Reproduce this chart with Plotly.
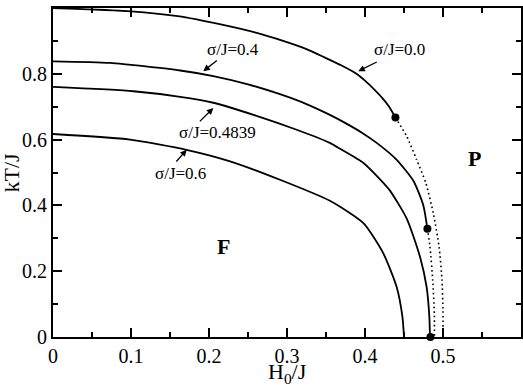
import plotly.graph_objects as go

# phase boundaries kT/J vs H0/J
h_s00 = [0.0, 0.1, 0.16, 0.215, 0.26, 0.295, 0.325, 0.348, 0.37, 0.389, 0.401, 0.412, 0.422, 0.431, 0.439]
t_s00 = [1.0, 0.99, 0.975, 0.95, 0.925, 0.9, 0.875, 0.85, 0.825, 0.8, 0.777, 0.752, 0.727, 0.7, 0.667]
h_s00_dot = [0.439, 0.4535, 0.466, 0.478, 0.4876, 0.495, 0.4987, 0.5, 0.5]
t_s00_dot = [0.667, 0.61, 0.54, 0.468, 0.376, 0.274, 0.173, 0.08, 0.0]

h_s04 = [0.0, 0.073, 0.163, 0.2055, 0.25, 0.291, 0.325, 0.355, 0.375, 0.396, 0.415, 0.44, 0.462, 0.4748, 0.48]
t_s04 = [0.838, 0.833, 0.81, 0.793, 0.768, 0.738, 0.708, 0.675, 0.65, 0.621, 0.59, 0.54, 0.475, 0.4, 0.329]
h_s04_dot = [0.48, 0.4833, 0.4868, 0.4889, 0.489]
t_s04_dot = [0.329, 0.274, 0.173, 0.071, 0.0]

h_s48 = [0.0, 0.103, 0.163, 0.2055, 0.26, 0.3124, 0.355, 0.368, 0.398, 0.419, 0.432, 0.4535, 0.4705, 0.479, 0.4825, 0.4833]
t_s48 = [0.76, 0.747, 0.73, 0.712, 0.673, 0.63, 0.59, 0.572, 0.529, 0.48, 0.445, 0.36, 0.244, 0.152, 0.061, 0.0]

h_s06 = [0.0, 0.0987, 0.171, 0.227, 0.291, 0.355, 0.398, 0.4235, 0.4406, 0.448, 0.45]
t_s06 = [0.617, 0.6, 0.569, 0.534, 0.478, 0.414, 0.346, 0.254, 0.152, 0.061, 0.0]

# tricritical / end points
h_pts = [0.439, 0.48, 0.4839]
t_pts = [0.667, 0.329, 0.0]

FONT = 'Liberation Serif'

fig = go.Figure()

for hx, ty in [(h_s00, t_s00), (h_s04, t_s04), (h_s48, t_s48), (h_s06, t_s06)]:
	fig.add_trace(go.Scatter(
		x = hx, y = ty, mode = 'lines',
		line = dict(color = 'black', width = 1.8, shape = 'spline', smoothing = 0.6),
		showlegend = False, hoverinfo = 'skip'
	))

for hx, ty in [(h_s00_dot, t_s00_dot), (h_s04_dot, t_s04_dot)]:
	fig.add_trace(go.Scatter(
		x = hx, y = ty, mode = 'lines',
		line = dict(color = 'black', width = 1.6, dash = '1.6px,3px', shape = 'spline', smoothing = 0.6),
		showlegend = False, hoverinfo = 'skip'
	))

fig.add_trace(go.Scatter(
	x = h_pts, y = t_pts, mode = 'markers',
	marker = dict(color = 'black', size = 8),
	showlegend = False, cliponaxis = False
))

# labels: (text, text x, text y, arrow tail x, tail y, head x, head y)
labels = [
	('σ/J=0.0', 0.4436, 0.874, 0.417, 0.838, 0.3914, 0.808),
	('σ/J=0.4', 0.2308, 0.874, 0.212, 0.844, 0.1927, 0.808),
	('σ/J=0.4839', 0.2109, 0.6226, 0.1863, 0.651, 0.2055, 0.696),
	('σ/J=0.6', 0.164, 0.498, 0.1564, 0.529, 0.1714, 0.569),
]
for txt, tx, ty, ax, ay, hx, hy in labels:
	fig.add_annotation(x = tx, y = ty, text = txt, showarrow = False,
		font = dict(family = FONT, size = 17, color = 'black'))
	fig.add_annotation(x = hx, y = hy, ax = ax, ay = ay, axref = 'x', ayref = 'y',
		text = '', showarrow = True, arrowhead = 2, arrowsize = 1, arrowwidth = 1.3,
		arrowcolor = 'black')

fig.add_annotation(x = 0.541, y = 0.542, text = '<b>P</b>', showarrow = False,
	font = dict(family = FONT, size = 22, color = 'black'))
fig.add_annotation(x = 0.218, y = 0.275, text = '<b>F</b>', showarrow = False,
	font = dict(family = FONT, size = 22, color = 'black'))

# axis titles
fig.add_annotation(xref = 'paper', yref = 'paper', x = 0.5, y = 0, yshift = -20,
	yanchor = 'top', text = 'H<sub>0</sub>/J', showarrow = False,
	font = dict(family = FONT, size = 22, color = 'black'))
fig.add_annotation(xref = 'paper', yref = 'paper', x = 0, y = 0.5, xshift = -42,
	xanchor = 'center', textangle = -90, text = 'kT/J', showarrow = False,
	font = dict(family = FONT, size = 22, color = 'black'))

axis_common = dict(
	showgrid = False, zeroline = False, automargin = False,
	showline = True, linecolor = 'black', linewidth = 1.8, mirror = 'allticks',
	ticks = 'inside', ticklen = 9, tickwidth = 1.5, tickcolor = 'black',
	tickfont = dict(family = FONT, size = 20, color = 'black'),
)

fig.update_layout(
	width = 523, height = 388,
	margin = dict(l = 53, r = 2, t = 8, b = 51),
	paper_bgcolor = 'white', plot_bgcolor = 'white',
	font = dict(family = FONT, color = 'black'),
	xaxis = dict(
		range = [0, 0.6],
		tickvals = [0, 0.1, 0.2, 0.3, 0.4, 0.5],
		ticktext = ['0', '0.1', '0.2', '0.3', '0.4', '0.5'],
		minor = dict(dtick = 0.05, ticks = 'inside', ticklen = 5, tickwidth = 1.5, tickcolor = 'black'),
		**axis_common
	),
	yaxis = dict(
		range = [0, 1],
		tickvals = [0, 0.2, 0.4, 0.6, 0.8, 1],
		ticktext = ['0', '0.2', '0.4', '0.6', '0.8', '1'],
		minor = dict(dtick = 0.1, ticks = 'inside', ticklen = 5, tickwidth = 1.5, tickcolor = 'black'),
		**axis_common
	),
)

fig.write_html("out.html", config = {'displayModeBar': False},
	post_script = "document.body.style.margin='0px';")
